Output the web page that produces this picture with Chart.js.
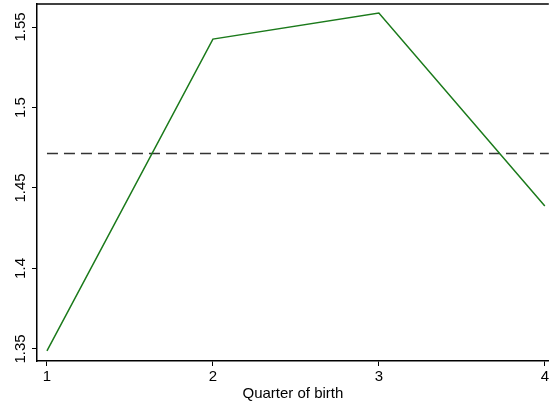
<!DOCTYPE html>
<html>
<head>
<meta charset="utf-8">
<script src="https://cdn.jsdelivr.net/npm/chart.js@4/dist/chart.umd.min.js"></script>
<style>
  html, body { margin: 0; padding: 0; background: #fff; }
  #c { display: block; }
</style>
</head>
<body>
<canvas id="c" width="551" height="403"></canvas>
<script>
// data
const quarters = [1, 2, 3, 4];
const meanValues = [1.3488, 1.5425, 1.5587, 1.4388];
const overallMean = 1.4714;
const yTicks = [1.35, 1.4, 1.45, 1.5, 1.55];
const xTicks = [1, 2, 3, 4];

const FONT = "'Liberation Sans', Arial, sans-serif";

// y labels are drawn rotated like in the original
const rotatedYLabels = {
    id: "rotatedYLabels",
    afterDraw(chart) {
        const ctx = chart.ctx;
        const y = chart.scales.y;
        ctx.save();
        ctx.font = "15px " + FONT;
        ctx.fillStyle = "#000";
        ctx.textAlign = "center";
        ctx.textBaseline = "middle";
        yTicks.forEach((v) => {
            const py = y.getPixelForValue(v);
            ctx.save();
            ctx.translate(21, py);
            ctx.rotate(-Math.PI / 2);
            ctx.fillText(String(v), 0, 0);
            ctx.restore();
        });
        // top frame line
        const a = chart.chartArea;
        ctx.strokeStyle = "#000";
        ctx.lineWidth = 1.5;
        ctx.beginPath();
        ctx.moveTo(a.left, a.top);
        ctx.lineTo(a.right, a.top);
        ctx.stroke();
        ctx.restore();
    },
};

const ctx = document.getElementById("c").getContext("2d");
new Chart(ctx, {
    type: "line",
    data: {
        datasets: [
            {
                label: "mean",
                data: quarters.map((q, i) => ({ x: q, y: meanValues[i] })),
                borderColor: "#1b7a1b",
                borderWidth: 1.5,
                pointRadius: 0,
                tension: 0,
            },
            {
                label: "overall",
                data: [
                    { x: quarters[0], y: overallMean },
                    { x: 4.1, y: overallMean },
                ],
                borderColor: "#333",
                borderWidth: 1.5,
                borderDash: [11, 6],
                pointRadius: 0,
            },
        ],
    },
    options: {
        responsive: false,
        animation: false,
        layout: { padding: { top: 4, right: 0, left: 0, bottom: 0 } },
        plugins: {
            legend: { display: false },
            tooltip: { enabled: false },
        },
        scales: {
            x: {
                type: "linear",
                min: 0.94,
                max: 4.024,
                afterBuildTicks: (s) => {
                    s.ticks = xTicks.map((v) => ({ value: v }));
                },
                afterFit: (s) => {
                    s.height = 42;
                },
                grid: {
                    drawOnChartArea: false,
                    drawTicks: true,
                    tickLength: 5,
                    color: "#000",
                },
                border: { color: "#000", width: 1.5 },
                ticks: {
                    color: "#000",
                    font: { family: FONT, size: 15 },
                    padding: 2,
                    maxRotation: 0,
                },
                title: {
                    display: true,
                    text: "Quarter of birth",
                    color: "#000",
                    font: { family: FONT, size: 15 },
                    padding: { top: 0, bottom: 0 },
                },
            },
            y: {
                min: 1.3425,
                max: 1.5643,
                afterBuildTicks: (s) => {
                    s.ticks = yTicks.map((v) => ({ value: v }));
                },
                afterFit: (s) => {
                    s.width = 37;
                },
                grid: {
                    drawOnChartArea: false,
                    drawTicks: true,
                    tickLength: 5,
                    color: "#000",
                },
                border: { color: "#000", width: 1.5 },
                ticks: { display: false },
            },
        },
    },
    plugins: [rotatedYLabels],
});
</script>
</body>
</html>
